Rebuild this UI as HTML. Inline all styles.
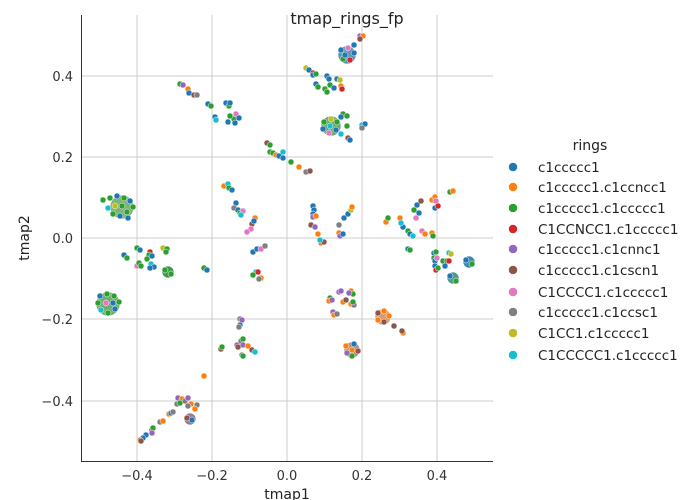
<!DOCTYPE html>
<html><head><meta charset="utf-8"><style>
html,body{margin:0;padding:0;background:#fff;}
svg{display:block;font-family:"DejaVu Sans","Liberation Sans",sans-serif;}
</style></head><body>
<svg width="694" height="500" viewBox="0 0 694 500" xmlns="http://www.w3.org/2000/svg">
<rect width="694" height="500" fill="#fff"/>
<g stroke="#cccccc" stroke-width="1">
<line x1="137" y1="15" x2="137" y2="461"/><line x1="212" y1="15" x2="212" y2="461"/><line x1="287" y1="15" x2="287" y2="461"/><line x1="362" y1="15" x2="362" y2="461"/><line x1="437" y1="15" x2="437" y2="461"/>
<line x1="81" y1="76" x2="493" y2="76"/><line x1="81" y1="157" x2="493" y2="157"/><line x1="81" y1="238" x2="493" y2="238"/><line x1="81" y1="319" x2="493" y2="319"/><line x1="81" y1="401" x2="493" y2="401"/>
</g>
<g stroke="#333" stroke-width="1"><line x1="81.5" y1="15" x2="81.5" y2="461"/><line x1="81" y1="461.5" x2="493" y2="461.5"/></g>
<g font-size="13" fill="#333" text-anchor="middle">
<text x="137" y="480">−0.4</text><text x="212" y="480">−0.2</text><text x="287" y="480">0.0</text><text x="362" y="480">0.2</text><text x="437" y="480">0.4</text>
</g>
<g font-size="13" fill="#333" text-anchor="end">
<text x="73" y="81">0.4</text><text x="73" y="162">0.2</text><text x="73" y="243">0.0</text><text x="73" y="324">−0.2</text><text x="73" y="406">−0.4</text>
</g>
<text x="287" y="499" font-size="14" fill="#222" text-anchor="middle">tmap1</text>
<text transform="translate(29,238) rotate(-90)" font-size="14" fill="#222" text-anchor="middle">tmap2</text>
<text x="347" y="24" font-size="16" fill="#222" text-anchor="middle">tmap_rings_fp</text>

<g stroke="#fff" stroke-width="0.6">
<circle cx="122" cy="207" r="12" fill="#7fb37a"/>
<circle cx="108" cy="304" r="12" fill="#6fae6a"/>
<circle cx="347" cy="55" r="9" fill="#5a93b8"/>
<circle cx="331" cy="126" r="10" fill="#6aaa6a"/>
<circle cx="383" cy="317" r="8" fill="#d69a70"/>
<circle cx="352" cy="350" r="8" fill="#a9907a"/>
<circle cx="453" cy="278" r="6" fill="#4d9a8a"/>
<circle cx="469" cy="262" r="6" fill="#3f88ae"/>
<circle cx="190" cy="419" r="6" fill="#9a7890"/>
<circle cx="168" cy="272" r="6" fill="#3a9a4a"/>
</g>
<g stroke="#fff" stroke-width="0.5">
<circle cx="103" cy="200" r="3" fill="#2ca02c"/><circle cx="110" cy="198" r="3" fill="#2ca02c"/><circle cx="117" cy="196" r="3" fill="#1f77b4"/><circle cx="124" cy="198" r="3" fill="#2ca02c"/><circle cx="130" cy="201" r="3" fill="#1f77b4"/><circle cx="133" cy="207" r="3" fill="#2ca02c"/><circle cx="127" cy="212" r="3" fill="#2ca02c"/><circle cx="120" cy="216" r="3" fill="#1f77b4"/><circle cx="113" cy="214" r="3" fill="#2ca02c"/><circle cx="108" cy="208" r="3" fill="#17becf"/><circle cx="115" cy="206" r="3" fill="#bcbd22"/><circle cx="122" cy="206" r="3" fill="#2ca02c"/><circle cx="128" cy="218" r="3" fill="#1f77b4"/>
<circle cx="100" cy="296" r="3" fill="#1f77b4"/><circle cx="107" cy="294" r="3" fill="#2ca02c"/><circle cx="114" cy="296" r="3" fill="#2ca02c"/><circle cx="119" cy="302" r="3" fill="#2ca02c"/><circle cx="115" cy="309" r="3" fill="#1f77b4"/><circle cx="108" cy="313" r="3" fill="#2ca02c"/><circle cx="101" cy="310" r="3" fill="#17becf"/><circle cx="98" cy="303" r="3" fill="#2ca02c"/><circle cx="106" cy="303" r="3" fill="#e377c2"/><circle cx="113" cy="303" r="3" fill="#1f77b4"/>
<circle cx="341" cy="50" r="3" fill="#1f77b4"/><circle cx="348" cy="48" r="3" fill="#e377c2"/><circle cx="354" cy="53" r="3" fill="#1f77b4"/><circle cx="350" cy="60" r="3" fill="#d62728"/><circle cx="343" cy="59" r="3" fill="#2ca02c"/><circle cx="345" cy="55" r="3" fill="#1f77b4"/>
<circle cx="324" cy="122" r="3" fill="#2ca02c"/><circle cx="331" cy="119" r="3" fill="#bcbd22"/><circle cx="337" cy="122" r="3" fill="#2ca02c"/><circle cx="336" cy="130" r="3" fill="#1f77b4"/><circle cx="329" cy="133" r="3" fill="#e377c2"/><circle cx="323" cy="129" r="3" fill="#1f77b4"/><circle cx="330" cy="126" r="3" fill="#17becf"/>
<circle cx="378" cy="313" r="3" fill="#8c564b"/><circle cx="384" cy="311" r="3" fill="#ff7f0e"/><circle cx="389" cy="316" r="3" fill="#ff7f0e"/><circle cx="384" cy="322" r="3" fill="#8c564b"/><circle cx="378" cy="320" r="3" fill="#ff7f0e"/>
<circle cx="346" cy="346" r="3" fill="#ff7f0e"/><circle cx="354" cy="344" r="3" fill="#1f77b4"/><circle cx="358" cy="351" r="3" fill="#8c564b"/><circle cx="352" cy="356" r="3" fill="#2ca02c"/><circle cx="347" cy="353" r="3" fill="#9467bd"/><circle cx="352" cy="350" r="3" fill="#ff7f0e"/>
<circle cx="450" cy="276" r="3" fill="#1f77b4"/><circle cx="456" cy="281" r="3" fill="#2ca02c"/>
<circle cx="466" cy="260" r="3" fill="#1f77b4"/><circle cx="472" cy="264" r="3" fill="#2ca02c"/>
<circle cx="187" cy="418" r="3" fill="#8c564b"/><circle cx="192" cy="420" r="3" fill="#1f77b4"/>
<circle cx="165" cy="270" r="3" fill="#2ca02c"/><circle cx="171" cy="274" r="3" fill="#2ca02c"/>

<circle cx="180" cy="84" r="3" fill="#2ca02c"/><circle cx="183" cy="85" r="3" fill="#9467bd"/>
<circle cx="188" cy="89" r="3" fill="#ff7f0e"/><circle cx="189" cy="93" r="3" fill="#1f77b4"/><circle cx="194" cy="95" r="3" fill="#8c564b"/><circle cx="197" cy="95" r="3" fill="#7f7f7f"/>
<circle cx="208" cy="104" r="3" fill="#1f77b4"/><circle cx="211" cy="106" r="3" fill="#2ca02c"/>
<circle cx="226" cy="103" r="3" fill="#1f77b4"/><circle cx="229" cy="106" r="3" fill="#2ca02c"/><circle cx="230" cy="103" r="3" fill="#1f77b4"/>
<circle cx="215" cy="117" r="3" fill="#1f77b4"/><circle cx="216" cy="120" r="3" fill="#17becf"/>
<circle cx="228" cy="122" r="3" fill="#1f77b4"/><circle cx="234" cy="119" r="3" fill="#2ca02c"/><circle cx="236" cy="114" r="3" fill="#e377c2"/><circle cx="239" cy="118" r="3" fill="#1f77b4"/><circle cx="235" cy="123" r="3" fill="#1f77b4"/><circle cx="230" cy="116" r="3" fill="#2ca02c"/>
<circle cx="267" cy="143" r="3" fill="#8c564b"/><circle cx="270" cy="145" r="3" fill="#2ca02c"/>
<circle cx="270" cy="152" r="3" fill="#2ca02c"/><circle cx="273" cy="153" r="3" fill="#2ca02c"/><circle cx="276" cy="155" r="3" fill="#ff7f0e"/><circle cx="279" cy="156" r="3" fill="#1f77b4"/><circle cx="283" cy="152" r="3" fill="#17becf"/><circle cx="283" cy="158" r="3" fill="#1f77b4"/>
<circle cx="224" cy="186" r="3" fill="#ff7f0e"/><circle cx="228" cy="184" r="3" fill="#17becf"/><circle cx="229" cy="188" r="3" fill="#2ca02c"/><circle cx="232" cy="190" r="3" fill="#1f77b4"/>
<circle cx="236" cy="203" r="3" fill="#1f77b4"/><circle cx="234" cy="208" r="3" fill="#7f7f7f"/><circle cx="238" cy="210" r="3" fill="#1f77b4"/><circle cx="240" cy="213" r="3" fill="#2ca02c"/><circle cx="243" cy="211" r="3" fill="#e377c2"/><circle cx="241" cy="215" r="3" fill="#17becf"/>
<circle cx="255" cy="218" r="3" fill="#ff7f0e"/><circle cx="252" cy="224" r="3" fill="#8c564b"/><circle cx="251" cy="229" r="3" fill="#e377c2"/><circle cx="247" cy="232" r="3" fill="#e377c2"/><circle cx="254" cy="221" r="3" fill="#1f77b4"/>
<circle cx="360" cy="36" r="3" fill="#9467bd"/><circle cx="363" cy="36" r="3" fill="#ff7f0e"/><circle cx="360" cy="39" r="3" fill="#8c564b"/>
<circle cx="354" cy="45" r="3" fill="#1f77b4"/>
<circle cx="306" cy="68" r="3" fill="#bcbd22"/><circle cx="309" cy="70" r="3" fill="#1f77b4"/><circle cx="313" cy="73" r="3" fill="#d62728"/><circle cx="313" cy="75" r="3" fill="#1f77b4"/><circle cx="316" cy="74" r="3" fill="#2ca02c"/>
<circle cx="327" cy="76" r="3" fill="#1f77b4"/><circle cx="329" cy="79" r="3" fill="#1f77b4"/><circle cx="337" cy="79" r="3" fill="#1f77b4"/><circle cx="340" cy="80" r="3" fill="#bcbd22"/>
<circle cx="316" cy="84" r="3" fill="#1f77b4"/><circle cx="318" cy="87" r="3" fill="#2ca02c"/><circle cx="325" cy="89" r="3" fill="#2ca02c"/><circle cx="330" cy="85" r="3" fill="#2ca02c"/><circle cx="334" cy="88" r="3" fill="#1f77b4"/><circle cx="341" cy="86" r="3" fill="#ff7f0e"/><circle cx="342" cy="89" r="3" fill="#d62728"/><circle cx="327" cy="92" r="3" fill="#2ca02c"/>
<circle cx="343" cy="114" r="3" fill="#2ca02c"/><circle cx="341" cy="117" r="3" fill="#1f77b4"/><circle cx="347" cy="116" r="3" fill="#2ca02c"/>
<circle cx="347" cy="126" r="3" fill="#2ca02c"/>
<circle cx="362" cy="125" r="3" fill="#17becf"/><circle cx="365" cy="124" r="3" fill="#1f77b4"/><circle cx="362" cy="128" r="3" fill="#7f7f7f"/>
<circle cx="341" cy="134" r="3" fill="#17becf"/>
<circle cx="348" cy="138" r="3" fill="#8c564b"/><circle cx="350" cy="140" r="3" fill="#1f77b4"/>
<circle cx="291" cy="162" r="3" fill="#2ca02c"/><circle cx="299" cy="167" r="3" fill="#ff7f0e"/><circle cx="306" cy="172" r="3" fill="#7f7f7f"/><circle cx="310" cy="171" r="3" fill="#8c564b"/>
<circle cx="313" cy="206" r="3" fill="#1f77b4"/><circle cx="314" cy="210" r="3" fill="#1f77b4"/><circle cx="313" cy="214" r="3" fill="#1f77b4"/><circle cx="313" cy="217" r="3" fill="#9467bd"/><circle cx="316" cy="216" r="3" fill="#ff7f0e"/>
<circle cx="311" cy="225" r="3" fill="#8c564b"/><circle cx="315" cy="227" r="3" fill="#9467bd"/><circle cx="318" cy="234" r="3" fill="#ff7f0e"/>
<circle cx="339" cy="233" r="3" fill="#ff7f0e"/><circle cx="340" cy="236" r="3" fill="#9467bd"/><circle cx="343" cy="234" r="3" fill="#1f77b4"/>
<circle cx="339" cy="225" r="3" fill="#7f7f7f"/><circle cx="344" cy="218" r="3" fill="#1f77b4"/><circle cx="348" cy="214" r="3" fill="#1f77b4"/><circle cx="351" cy="210" r="3" fill="#bcbd22"/><circle cx="352" cy="207" r="3" fill="#ff7f0e"/>
<circle cx="417" cy="205" r="3" fill="#1f77b4"/><circle cx="421" cy="201" r="3" fill="#8c564b"/><circle cx="414" cy="210" r="3" fill="#2ca02c"/><circle cx="419" cy="213" r="3" fill="#1f77b4"/><circle cx="416" cy="218" r="3" fill="#e377c2"/>
<circle cx="432" cy="200" r="3" fill="#ff7f0e"/><circle cx="435" cy="197" r="3" fill="#ff7f0e"/><circle cx="450" cy="192" r="3" fill="#2ca02c"/><circle cx="453" cy="191" r="3" fill="#ff7f0e"/>
<circle cx="436" cy="201" r="3" fill="#e377c2"/><circle cx="435" cy="208" r="3" fill="#1f77b4"/><circle cx="438" cy="206" r="3" fill="#d62728"/>
<circle cx="403" cy="227" r="3" fill="#1f77b4"/><circle cx="408" cy="231" r="3" fill="#2ca02c"/><circle cx="410" cy="234" r="3" fill="#1f77b4"/><circle cx="413" cy="236" r="3" fill="#17becf"/>
<circle cx="422" cy="231" r="3" fill="#e377c2"/><circle cx="425" cy="234" r="3" fill="#ff7f0e"/><circle cx="432" cy="233" r="3" fill="#ff7f0e"/><circle cx="433" cy="236" r="3" fill="#2ca02c"/>
<circle cx="386" cy="222" r="3" fill="#ff7f0e"/><circle cx="388" cy="218" r="3" fill="#2ca02c"/><circle cx="400" cy="218" r="3" fill="#ff7f0e"/><circle cx="401" cy="223" r="3" fill="#17becf"/>
<circle cx="124" cy="255" r="3" fill="#1f77b4"/><circle cx="127" cy="258" r="3" fill="#2ca02c"/>
<circle cx="137" cy="248" r="3" fill="#2ca02c"/><circle cx="140" cy="250" r="3" fill="#1f77b4"/>
<circle cx="150" cy="252" r="3" fill="#d62728"/><circle cx="149" cy="255" r="3" fill="#2ca02c"/><circle cx="152" cy="256" r="3" fill="#1f77b4"/>
<circle cx="147" cy="259" r="3" fill="#2ca02c"/>
<circle cx="137" cy="266" r="3" fill="#e377c2"/><circle cx="139" cy="263" r="3" fill="#2ca02c"/><circle cx="141" cy="266" r="3" fill="#2ca02c"/>
<circle cx="151" cy="264" r="3" fill="#17becf"/><circle cx="154" cy="267" r="3" fill="#1f77b4"/><circle cx="150" cy="268" r="3" fill="#1f77b4"/>
<circle cx="163" cy="248" r="3" fill="#bcbd22"/><circle cx="167" cy="249" r="3" fill="#2ca02c"/><circle cx="166" cy="252" r="3" fill="#2ca02c"/>
<circle cx="204" cy="268" r="3" fill="#2ca02c"/><circle cx="207" cy="270" r="3" fill="#1f77b4"/>
<circle cx="253" cy="252" r="3" fill="#1f77b4"/><circle cx="257" cy="249" r="3" fill="#1f77b4"/><circle cx="261" cy="249" r="3" fill="#e377c2"/><circle cx="265" cy="246" r="3" fill="#7f7f7f"/>
<circle cx="256" cy="272" r="3" fill="#17becf"/><circle cx="258" cy="272" r="3" fill="#d62728"/><circle cx="253" cy="275" r="3" fill="#2ca02c"/><circle cx="261" cy="278" r="3" fill="#ff7f0e"/><circle cx="259" cy="279" r="3" fill="#7f7f7f"/>
<circle cx="240" cy="319" r="3" fill="#7f7f7f"/><circle cx="242" cy="320" r="3" fill="#9467bd"/><circle cx="240" cy="325" r="3" fill="#1f77b4"/><circle cx="239" cy="327" r="3" fill="#7f7f7f"/>
<circle cx="241" cy="341" r="3" fill="#7f7f7f"/><circle cx="243" cy="339" r="3" fill="#2ca02c"/><circle cx="237" cy="345" r="3" fill="#9467bd"/><circle cx="243" cy="345" r="3" fill="#9467bd"/><circle cx="238" cy="347" r="3" fill="#8c564b"/><circle cx="248" cy="346" r="3" fill="#ff7f0e"/><circle cx="252" cy="350" r="3" fill="#8c564b"/><circle cx="255" cy="352" r="3" fill="#17becf"/>
<circle cx="221" cy="349" r="3" fill="#8c564b"/><circle cx="222" cy="347" r="3" fill="#2ca02c"/>
<circle cx="242" cy="355" r="3" fill="#7f7f7f"/><circle cx="243" cy="356" r="3" fill="#2ca02c"/>
<circle cx="204" cy="376" r="3" fill="#ff7f0e"/>
<circle cx="178" cy="398" r="3" fill="#9467bd"/><circle cx="182" cy="399" r="3" fill="#ff7f0e"/><circle cx="177" cy="404" r="3" fill="#7f7f7f"/><circle cx="180" cy="403" r="3" fill="#2ca02c"/><circle cx="185" cy="401" r="3" fill="#7f7f7f"/><circle cx="188" cy="398" r="3" fill="#9467bd"/><circle cx="191" cy="404" r="3" fill="#ff7f0e"/><circle cx="188" cy="406" r="3" fill="#7f7f7f"/><circle cx="197" cy="405" r="3" fill="#7f7f7f"/><circle cx="195" cy="409" r="3" fill="#ff7f0e"/>
<circle cx="169" cy="414" r="3" fill="#ff7f0e"/><circle cx="171" cy="413" r="3" fill="#1f77b4"/><circle cx="173" cy="412" r="3" fill="#7f7f7f"/>
<circle cx="160" cy="422" r="3" fill="#7f7f7f"/><circle cx="163" cy="421" r="3" fill="#ff7f0e"/>
<circle cx="152" cy="430" r="3" fill="#8c564b"/><circle cx="153" cy="428" r="3" fill="#2ca02c"/><circle cx="152" cy="433" r="3" fill="#9467bd"/>
<circle cx="146" cy="435" r="3" fill="#1f77b4"/><circle cx="143" cy="438" r="3" fill="#1f77b4"/><circle cx="140" cy="440" r="3" fill="#ff7f0e"/><circle cx="141" cy="441" r="3" fill="#8c564b"/>
<circle cx="321" cy="243" r="3" fill="#ff7f0e"/><circle cx="324" cy="242" r="3" fill="#8c564b"/><circle cx="320" cy="240" r="3" fill="#17becf"/>
<circle cx="408" cy="249" r="3" fill="#1f77b4"/><circle cx="410" cy="250" r="3" fill="#2ca02c"/>
<circle cx="434" cy="253" r="3" fill="#1f77b4"/><circle cx="436" cy="252" r="3" fill="#2ca02c"/>
<circle cx="449" cy="253" r="3" fill="#17becf"/><circle cx="451" cy="254" r="3" fill="#bcbd22"/>
<circle cx="434" cy="258" r="3" fill="#2ca02c"/><circle cx="435" cy="261" r="3" fill="#1f77b4"/><circle cx="437" cy="258" r="3" fill="#e377c2"/>
<circle cx="443" cy="261" r="3" fill="#2ca02c"/><circle cx="447" cy="261" r="3" fill="#2ca02c"/><circle cx="449" cy="261" r="3" fill="#d62728"/><circle cx="445" cy="266" r="3" fill="#1f77b4"/>
<circle cx="435" cy="266" r="3" fill="#1f77b4"/><circle cx="436" cy="270" r="3" fill="#d62728"/><circle cx="438" cy="268" r="3" fill="#2ca02c"/>
<circle cx="339" cy="292" r="3" fill="#9467bd"/><circle cx="341" cy="291" r="3" fill="#9467bd"/>
<circle cx="351" cy="291" r="3" fill="#ff7f0e"/><circle cx="353" cy="294" r="3" fill="#2ca02c"/><circle cx="349" cy="293" r="3" fill="#9467bd"/>
<circle cx="330" cy="298" r="3" fill="#2ca02c"/><circle cx="329" cy="301" r="3" fill="#ff7f0e"/><circle cx="332" cy="300" r="3" fill="#9467bd"/>
<circle cx="343" cy="302" r="3" fill="#ff7f0e"/><circle cx="346" cy="300" r="3" fill="#8c564b"/>
<circle cx="351" cy="304" r="3" fill="#ff7f0e"/><circle cx="354" cy="305" r="3" fill="#9467bd"/><circle cx="353" cy="302" r="3" fill="#2ca02c"/>
<circle cx="333" cy="312" r="3" fill="#9467bd"/><circle cx="334" cy="315" r="3" fill="#ff7f0e"/><circle cx="337" cy="314" r="3" fill="#7f7f7f"/>
<circle cx="394" cy="326" r="3" fill="#8c564b"/>
<circle cx="403" cy="333" r="3" fill="#ff7f0e"/><circle cx="402" cy="331" r="3" fill="#8c564b"/>
</g>

<text x="590" y="150" font-size="14" fill="#222" text-anchor="middle">rings</text>
<g stroke="#fff" stroke-width="0.5">
<circle cx="513" cy="167" r="4.5" fill="#1f77b4"/><circle cx="513" cy="187" r="4.5" fill="#ff7f0e"/><circle cx="513" cy="208" r="4.5" fill="#2ca02c"/><circle cx="513" cy="229" r="4.5" fill="#d62728"/><circle cx="513" cy="249" r="4.5" fill="#9467bd"/><circle cx="513" cy="270" r="4.5" fill="#8c564b"/><circle cx="513" cy="292" r="4.5" fill="#e377c2"/><circle cx="513" cy="312" r="4.5" fill="#7f7f7f"/><circle cx="513" cy="333" r="4.5" fill="#bcbd22"/><circle cx="513" cy="355" r="4.5" fill="#17becf"/>
</g>
<g font-size="13.5" fill="#222">
<text x="538" y="172">c1ccccc1</text>
<text x="538" y="192">c1ccccc1.c1ccncc1</text>
<text x="538" y="213">c1ccccc1.c1ccccc1</text>
<text x="538" y="234">C1CCNCC1.c1ccccc1</text>
<text x="538" y="254">c1ccccc1.c1cnnc1</text>
<text x="538" y="275">c1ccccc1.c1cscn1</text>
<text x="538" y="297">C1CCCC1.c1ccccc1</text>
<text x="538" y="317">c1ccccc1.c1ccsc1</text>
<text x="538" y="338">C1CC1.c1ccccc1</text>
<text x="538" y="360">C1CCCCC1.c1ccccc1</text>
</g>
</svg>
</body></html>
